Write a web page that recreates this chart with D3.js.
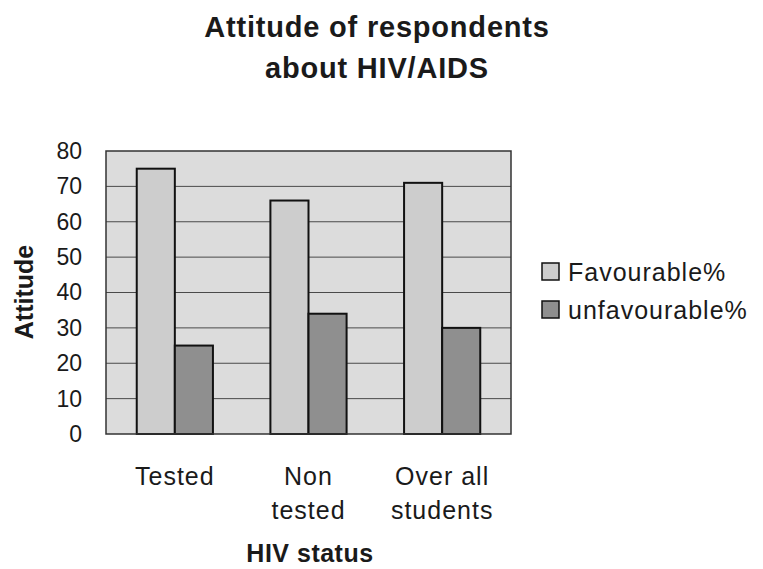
<!DOCTYPE html>
<html>
<head>
<meta charset="utf-8">
<script src="https://cdn.jsdelivr.net/npm/d3@7"></script>
<style>
  body { margin: 0; background: #fff; }
  text { font-family: "Liberation Sans", Arial, sans-serif; fill: #1a1a1a; }
</style>
</head>
<body>
<div id="chart"></div>
<script>
// data
var categories = [["Tested"], ["Non", "tested"], ["Over all", "students"]];
var series = ["Favourable%", "unfavourable%"];
var favourable = [75, 66, 71];
var unfavourable = [25, 34, 30];
var yTicks = [0, 10, 20, 30, 40, 50, 60, 70, 80];

var width = 763, height = 569;
var margin = {top: 151, right: 252, bottom: 135, left: 106};
var w = width - margin.left - margin.right,
    h = height - margin.top - margin.bottom;

var svg = d3.select("#chart")
    .append("svg")
    .attr("width", width)
    .attr("height", height);

var colors = d3.scaleOrdinal().domain(series).range(["#cdcdcd", "#8f8f8f"]);

var x = d3.scaleBand()
    .domain(d3.range(categories.length))
    .range([0, w])
    .paddingInner(0.43)
    .paddingOuter(0.23);

var xSub = d3.scaleBand()
    .domain(series)
    .range([0, x.bandwidth()]);

var y = d3.scaleLinear().domain([0, 80]).range([h, 0]);

var g = svg.append("g")
    .attr("transform", "translate(" + margin.left + "," + margin.top + ")");

// plot background
g.append("rect")
    .attr("width", w)
    .attr("height", h)
    .style("fill", "#dcdcdc");

// gridlines
g.selectAll(".grid")
    .data(yTicks.slice(1, -1))
    .enter().append("line")
    .attr("x1", 0)
    .attr("x2", w)
    .attr("y1", function(d) { return y(d); })
    .attr("y2", function(d) { return y(d); })
    .style("stroke", "#4a4a4a")
    .style("stroke-width", 1);

var rows = categories.map(function(c, i) {
  return [
    {i: i, key: series[0], value: favourable[i]},
    {i: i, key: series[1], value: unfavourable[i]}
  ];
});

g.selectAll(".group")
    .data(rows)
    .enter().append("g")
    .attr("transform", function(d, i) { return "translate(" + x(i) + ",0)"; })
  .selectAll("rect")
    .data(function(d) { return d; })
    .enter().append("rect")
    .attr("x", function(d) { return xSub(d.key); })
    .attr("y", function(d) { return y(d.value); })
    .attr("width", xSub.bandwidth())
    .attr("height", function(d) { return h - y(d.value); })
    .style("fill", function(d) { return colors(d.key); })
    .style("stroke", "#111")
    .style("stroke-width", 2);

// plot border
g.append("rect")
    .attr("width", w)
    .attr("height", h)
    .style("fill", "none")
    .style("stroke", "#333")
    .style("stroke-width", 1.5);

// y axis
var yAxis = g.append("g")
    .call(d3.axisLeft(y).tickValues(yTicks).tickSize(0).tickPadding(24));
yAxis.select(".domain").remove();
yAxis.selectAll("text")
    .style("font-size", "23px")
    .style("font-family", "Liberation Sans, Arial, sans-serif")
    .style("fill", "#1a1a1a");

// x axis labels
var xLab = g.selectAll(".xlab")
    .data(categories)
    .enter().append("text")
    .attr("text-anchor", "middle")
    .attr("x", function(d, i) { return x(i) + x.bandwidth() / 2; })
    .attr("y", h + 51)
    .style("font-size", "25px")
    .style("letter-spacing", "1px");
xLab.selectAll("tspan")
    .data(function(d) { return d; })
    .enter().append("tspan")
    .attr("x", function() { return d3.select(this.parentNode).attr("x"); })
    .attr("dy", function(d, j) { return j ? 34 : 0; })
    .text(function(d) { return d; });

// axis titles
svg.append("text")
    .attr("text-anchor", "middle")
    .attr("x", 310)
    .attr("y", 562)
    .style("font-size", "25px")
    .style("font-weight", "bold")
    .style("letter-spacing", "0.5px")
    .text("HIV status");

svg.append("text")
    .attr("text-anchor", "middle")
    .attr("transform", "translate(33,292) rotate(-90)")
    .style("font-size", "25px")
    .style("font-weight", "bold")
    .text("Attitude");

// title
var title = svg.append("text")
    .attr("text-anchor", "middle")
    .attr("x", 377)
    .style("font-size", "29px")
    .style("font-weight", "bold")
    .style("letter-spacing", "0.8px");
title.append("tspan").attr("x", 377).attr("y", 37).text("Attitude of respondents");
title.append("tspan").attr("x", 377).attr("y", 78).text("about HIV/AIDS");

// legend
var legend = svg.selectAll(".legend")
    .data(series)
    .enter().append("g")
    .attr("transform", function(d, i) { return "translate(542," + (263 + i * 38) + ")"; });
legend.append("rect")
    .attr("width", 17)
    .attr("height", 17)
    .style("fill", function(d) { return colors(d); })
    .style("stroke", "#111")
    .style("stroke-width", 1.5);
legend.append("text")
    .attr("x", 26)
    .attr("y", 18)
    .style("font-size", "25px")
    .style("letter-spacing", "1px")
    .text(function(d) { return d; });
</script>
</body>
</html>
